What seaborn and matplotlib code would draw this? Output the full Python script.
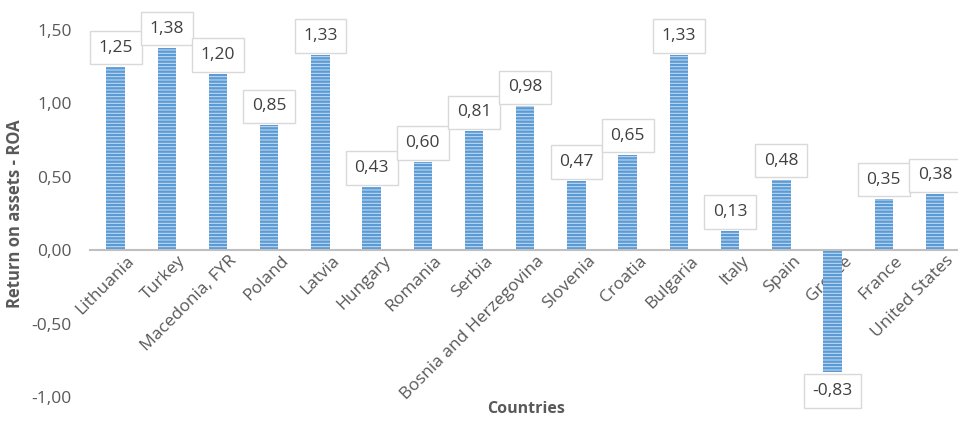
import matplotlib
matplotlib.use("Agg")
import matplotlib.pyplot as plt
import seaborn as sns
import pandas as pd

countries = ["Lithuania", "Turkey", "Macedonia, FYR", "Poland", "Latvia", "Hungary",
             "Romania", "Serbia", "Bosnia and Herzegovina", "Slovenia", "Croatia",
             "Bulgaria", "Italy", "Spain", "Greece", "France", "United States"]
roa = [1.25, 1.38, 1.20, 0.85, 1.33, 0.43, 0.60, 0.81, 0.98, 0.47, 0.65, 1.33,
       0.13, 0.48, -0.83, 0.35, 0.38]
yticks = [-1.0, -0.5, 0.0, 0.5, 1.0, 1.5]

sns.set_theme(style="white")
plt.rcParams["font.family"] = ["Open Sans", "DejaVu Sans"]
plt.rcParams["hatch.linewidth"] = 1.7
plt.rcParams["hatch.color"] = "#5b9bd5"

df = pd.DataFrame({"country": countries, "roa": roa})

fig = plt.figure(figsize=(9.58, 4.22), dpi=100)
ax = fig.add_axes([90 / 958, 1 - 397 / 422, 1 - 90 / 958, 367 / 422])

sns.barplot(data=df, x="country", y="roa", ax=ax, color="#c6dbf1", width=0.36,
            saturation=1)
for p in ax.patches:
    p.set_hatch("-----")
    p.set_edgecolor("#5b9bd5")
    p.set_linewidth(0)
    p.set_facecolor("#c9def3")

ax.set_ylim(-1.0, 1.5)
ax.set_xlim(-0.5, 16.45)
ax.set_yticks(yticks)
ax.set_yticklabels([f"{v:.2f}".replace(".", ",") for v in yticks],
                   color="#595959", fontsize=12.5)

for s in ["top", "right", "left"]:
    ax.spines[s].set_visible(False)
ax.spines["bottom"].set_position(("data", 0))
ax.spines["bottom"].set_color("#bfbfbf")
ax.spines["bottom"].set_linewidth(1.5)
ax.tick_params(axis="both", length=0)
ax.tick_params(axis="y", pad=13)
ax.tick_params(axis="x", pad=2)
ax.set_xticks(range(len(countries)))
ax.set_xticklabels(countries, rotation=45, ha="right", rotation_mode="anchor",
                   color="#595959", fontsize=12.5)
for lbl in ax.get_xticklabels():
    lbl.set_transform(lbl.get_transform() + matplotlib.transforms.ScaledTranslation(11 / 100, 0, fig.dpi_scale_trans))

ax.set_xlabel("")
ax.set_ylabel("Return on assets - ROA", fontsize=12, fontweight="bold",
              color="#595959")
ax.yaxis.set_label_coords(-0.076, 0.5)
fig.text(0.549, 0.012, "Countries", fontsize=11.5, fontweight="bold",
         color="#595959", ha="center", va="bottom")

for i, v in enumerate(roa):
    off = 8 if v >= 0 else -8
    ax.annotate(f"{v:.2f}".replace(".", ","), (i, v), xytext=(0, off),
                textcoords="offset points", ha="center",
                va="bottom" if v >= 0 else "top", fontsize=12.5, color="#404040",
                annotation_clip=False,
                bbox=dict(boxstyle="square,pad=0.5", fc="white", ec="#d9d9d9", lw=1))

fig.savefig("out.png", dpi=100)
